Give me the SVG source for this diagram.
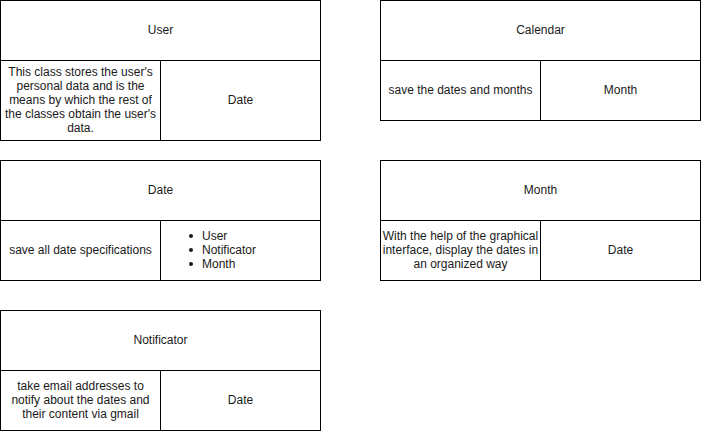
<svg xmlns="http://www.w3.org/2000/svg" width="701" height="431" viewBox="0 0 701 431">
<style>
.box{fill:#fff;stroke:#000;stroke-width:1}
.ln{stroke:#000;stroke-width:1;fill:none}
text{font-family:"Liberation Sans",Arial,sans-serif;font-size:12px;fill:#1a1a1a}
.c{text-anchor:middle}
</style>
<rect width="701" height="431" fill="#fff"/>
<g id="user">
<rect class="box" x="0.5" y="0.5" width="320" height="140"/>
<line class="ln" x1="0.5" y1="60.5" x2="320.5" y2="60.5"/>
<line class="ln" x1="160.5" y1="60.5" x2="160.5" y2="140.5"/>
<text class="c" x="160.5" y="34">User</text>
<text class="c" x="80.5" y="76">This class stores the user's</text>
<text class="c" x="80.5" y="90">personal data and is the</text>
<text class="c" x="80.5" y="104">means by which the rest of</text>
<text class="c" x="80.5" y="118">the classes obtain the user's</text>
<text class="c" x="80.5" y="132">data.</text>
<text class="c" x="240.5" y="104">Date</text>
</g>
<g id="calendar">
<rect class="box" x="380.5" y="0.5" width="320" height="120"/>
<line class="ln" x1="380.5" y1="60.5" x2="700.5" y2="60.5"/>
<line class="ln" x1="540.5" y1="60.5" x2="540.5" y2="120.5"/>
<text class="c" x="540.5" y="34">Calendar</text>
<text class="c" x="460.5" y="94">save the dates and months</text>
<text class="c" x="620.5" y="94">Month</text>
</g>
<g id="date">
<rect class="box" x="0.5" y="160.5" width="320" height="120"/>
<line class="ln" x1="0.5" y1="220.5" x2="320.5" y2="220.5"/>
<line class="ln" x1="160.5" y1="220.5" x2="160.5" y2="280.5"/>
<text class="c" x="160.5" y="194">Date</text>
<text class="c" x="80.5" y="254">save all date specifications</text>
<circle cx="191" cy="236" r="2" fill="#1a1a1a"/>
<circle cx="191" cy="250" r="2" fill="#1a1a1a"/>
<circle cx="191" cy="264" r="2" fill="#1a1a1a"/>
<text x="202" y="240">User</text>
<text x="202" y="254">Notificator</text>
<text x="202" y="268">Month</text>
</g>
<g id="month">
<rect class="box" x="380.5" y="160.5" width="320" height="120"/>
<line class="ln" x1="380.5" y1="220.5" x2="700.5" y2="220.5"/>
<line class="ln" x1="540.5" y1="220.5" x2="540.5" y2="280.5"/>
<text class="c" x="540.5" y="194">Month</text>
<text class="c" x="460.5" y="240">With the help of the graphical</text>
<text class="c" x="460.5" y="254">interface, display the dates in</text>
<text class="c" x="460.5" y="268">an organized way</text>
<text class="c" x="620.5" y="254">Date</text>
</g>
<g id="notificator">
<rect class="box" x="0.5" y="310.5" width="320" height="120"/>
<line class="ln" x1="0.5" y1="370.5" x2="320.5" y2="370.5"/>
<line class="ln" x1="160.5" y1="370.5" x2="160.5" y2="430.5"/>
<text class="c" x="160.5" y="344">Notificator</text>
<text class="c" x="80.5" y="390">take email addresses to</text>
<text class="c" x="80.5" y="404">notify about the dates and</text>
<text class="c" x="80.5" y="418">their content via gmail</text>
<text class="c" x="240.5" y="404">Date</text>
</g>
<g id="connectors"></g>
</svg>
